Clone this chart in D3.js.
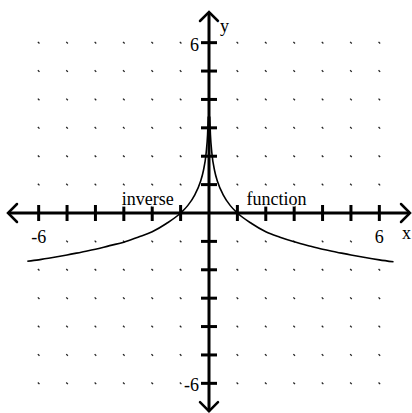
<!DOCTYPE html>
<html>
<head>
<meta charset="utf-8">
<script src="https://cdn.jsdelivr.net/npm/d3@7"></script>
<style>
  body { margin: 0; background: #fff; }
  text { font-family: "Liberation Serif", "Times New Roman", serif; font-size: 18px; fill: #000; }
</style>
</head>
<body>
<div id="chart"></div>
<script>
// grid and tick values
const gridValues = [-6, -5, -4, -3, -2, -1, 1, 2, 3, 4, 5, 6];
const tickValues = [-6, -5, -4, -3, -2, -1, 1, 2, 3, 4, 5, 6];
const axisLabels = [-6, 6];

// right branch ("function")
const functionX = [0.025, 0.05, 0.1, 0.2, 0.3, 0.5, 0.75, 1, 1.5, 2, 2.5, 3, 3.5, 4, 4.5, 5, 5.5, 6, 6.5];
const functionY = [3.4, 2.76, 2.12, 1.48, 1.11, 0.64, 0.26, 0, -0.37, -0.66, -0.85, -1.01, -1.15, -1.28, -1.38, -1.48, -1.57, -1.65, -1.72];

// left branch ("inverse")
const inverseX = [-6.4, -6, -5.5, -5, -4.5, -4, -3.5, -3, -2.5, -2, -1.5, -1, -0.75, -0.5, -0.3, -0.2, -0.1, -0.05, -0.025];
const inverseY = [-1.7, -1.65, -1.57, -1.48, -1.38, -1.28, -1.15, -1.03, -0.85, -0.66, -0.37, 0, 0.26, 0.64, 1.11, 1.48, 2.12, 2.76, 3.4];

const width = 412, height = 413;
const lim = 7.08;

const svg = d3.select("#chart").append("svg")
    .attr("width", width)
    .attr("height", height);

const x = d3.scaleLinear().domain([-lim, lim]).range([8, 410]);
const y = d3.scaleLinear().domain([-lim, lim]).range([414, 12]);

// dotted grid
const dots = [];
gridValues.forEach(gx => gridValues.forEach(gy => dots.push([gx, gy])));
svg.append("g")
    .selectAll("line")
    .data(dots)
    .enter().append("line")
    .attr("x1", d => x(d[0]) - 0.8)
    .attr("y1", d => y(d[1]) - 0.8)
    .attr("x2", d => x(d[0]) + 0.8)
    .attr("y2", d => y(d[1]) + 0.8)
    .attr("stroke", "#222")
    .attr("stroke-width", 1.3);

// axes
const axes = svg.append("g")
    .attr("stroke", "#000")
    .attr("fill", "none")
    .attr("stroke-width", 3);

axes.append("line")
    .attr("x1", x(-lim)).attr("x2", x(lim))
    .attr("y1", y(0)).attr("y2", y(0));
axes.append("line")
    .attr("x1", x(0)).attr("x2", x(0))
    .attr("y1", y(lim)).attr("y2", y(-lim + 0.1));

// ticks
axes.selectAll(".xtick")
    .data(tickValues)
    .enter().append("line")
    .attr("class", "xtick")
    .attr("x1", d => x(d)).attr("x2", d => x(d))
    .attr("y1", y(0) - 8).attr("y2", y(0) + 8);
axes.selectAll(".ytick")
    .data(tickValues)
    .enter().append("line")
    .attr("class", "ytick")
    .attr("y1", d => y(d)).attr("y2", d => y(d))
    .attr("x1", x(0) - 8).attr("x2", x(0) + 8);

// arrow heads
const a = 9;
const arrows = axes.append("g").attr("stroke-width", 2.5).attr("stroke-linecap", "round");
arrows.append("path").attr("d", `M${x(-lim) + a},${y(0) - a} L${x(-lim)},${y(0)} L${x(-lim) + a},${y(0) + a}`);
arrows.append("path").attr("d", `M${x(lim) - a},${y(0) - a} L${x(lim)},${y(0)} L${x(lim) - a},${y(0) + a}`);
arrows.append("path").attr("d", `M${x(0) - a},${y(lim) + a} L${x(0)},${y(lim)} L${x(0) + a},${y(lim) + a}`);
arrows.append("path").attr("d", `M${x(0) - a},${y(-lim + 0.1) - a} L${x(0)},${y(-lim + 0.1)} L${x(0) + a},${y(-lim + 0.1) - a}`);

// curves
const line = d3.line()
    .x(d => x(d[0]))
    .y(d => y(d[1]))
    .curve(d3.curveMonotoneX);

svg.append("path")
    .datum(functionX.map((v, i) => [v, functionY[i]]))
    .attr("fill", "none")
    .attr("stroke", "#000")
    .attr("stroke-width", 1.6)
    .attr("d", line);

svg.append("path")
    .datum(inverseX.map((v, i) => [v, inverseY[i]]))
    .attr("fill", "none")
    .attr("stroke", "#000")
    .attr("stroke-width", 1.6)
    .attr("d", line);

// labels
const labels = svg.append("g")
    .attr("stroke", "#fff")
    .attr("stroke-width", 3)
    .attr("paint-order", "stroke");

labels.selectAll(".xlab")
    .data(axisLabels)
    .enter().append("text")
    .attr("class", "xlab")
    .attr("x", d => x(d))
    .attr("y", y(0) + 30)
    .attr("text-anchor", "middle")
    .text(d => d);

labels.selectAll(".ylab")
    .data(axisLabels)
    .enter().append("text")
    .attr("class", "ylab")
    .attr("x", x(0) - 10)
    .attr("y", d => y(d) + 8)
    .attr("text-anchor", "end")
    .text(d => d);

labels.append("text").attr("x", x(lim) - 8).attr("y", y(0) + 26).text("x");
labels.append("text").attr("x", x(0) + 11).attr("y", y(lim) + 20).text("y");
labels.append("text").attr("x", x(-3.07)).attr("y", y(0) - 8).text("inverse");
labels.append("text").attr("x", x(1.32)).attr("y", y(0) - 8).text("function");
</script>
</body>
</html>
